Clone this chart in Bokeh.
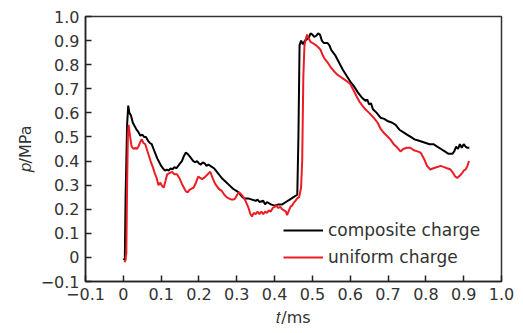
from bokeh.plotting import figure
from bokeh.models import FixedTicker, CustomJSTickFormatter, Range1d
from bokeh.embed import file_html
from bokeh.resources import INLINE

# composite charge (t in ms, p in MPa)
t_comp = [0.000, 0.004, 0.006, 0.010, 0.013, 0.016, 0.020, 0.025, 0.030, 0.035, 0.040, 0.045, 0.050, 0.055, 0.060,
          0.065, 0.070, 0.075, 0.080, 0.085, 0.090, 0.095, 0.100, 0.105, 0.110, 0.115, 0.120, 0.125, 0.130, 0.135,
          0.140, 0.145, 0.150, 0.155, 0.160, 0.165, 0.170, 0.175, 0.180, 0.185, 0.190, 0.195, 0.200, 0.205, 0.210,
          0.215, 0.220, 0.225, 0.230, 0.235, 0.240, 0.245, 0.250, 0.255, 0.260, 0.270, 0.280, 0.290, 0.300, 0.305,
          0.310, 0.315, 0.320, 0.330, 0.340, 0.350, 0.355, 0.360, 0.370, 0.375, 0.380, 0.390, 0.400, 0.410, 0.420,
          0.430, 0.440, 0.450, 0.460, 0.463, 0.466, 0.470, 0.475, 0.480, 0.490, 0.495, 0.500, 0.505, 0.510, 0.515,
          0.520, 0.525, 0.530, 0.540, 0.545, 0.550, 0.560, 0.570, 0.580, 0.590, 0.600, 0.610, 0.620, 0.630, 0.640,
          0.645, 0.650, 0.655, 0.660, 0.670, 0.680, 0.690, 0.700, 0.710, 0.720, 0.730, 0.740, 0.750, 0.760, 0.770,
          0.780, 0.790, 0.800, 0.810, 0.820, 0.830, 0.840, 0.850, 0.860, 0.870, 0.875, 0.880, 0.885, 0.890, 0.895,
          0.900, 0.905, 0.910, 0.915]
p_comp = [-0.010, -0.005, 0.250, 0.550, 0.630, 0.600, 0.590, 0.560, 0.545, 0.530, 0.520, 0.505, 0.510, 0.500, 0.500,
          0.485, 0.475, 0.470, 0.450, 0.430, 0.410, 0.395, 0.380, 0.370, 0.360, 0.365, 0.360, 0.370, 0.365, 0.375,
          0.370, 0.380, 0.390, 0.400, 0.420, 0.435, 0.430, 0.420, 0.410, 0.400, 0.395, 0.400, 0.390, 0.385, 0.395,
          0.390, 0.380, 0.385, 0.380, 0.375, 0.370, 0.360, 0.350, 0.340, 0.330, 0.315, 0.300, 0.285, 0.275, 0.270,
          0.260, 0.250, 0.245, 0.245, 0.240, 0.235, 0.240, 0.230, 0.235, 0.220, 0.230, 0.220, 0.215, 0.220, 0.220,
          0.230, 0.240, 0.250, 0.260, 0.500, 0.880, 0.900, 0.885, 0.900, 0.910, 0.930, 0.925, 0.915, 0.920, 0.930,
          0.925, 0.900, 0.890, 0.890, 0.880, 0.860, 0.840, 0.810, 0.780, 0.755, 0.730, 0.710, 0.685, 0.665, 0.650,
          0.655, 0.635, 0.640, 0.615, 0.600, 0.580, 0.575, 0.565, 0.560, 0.550, 0.530, 0.520, 0.510, 0.500, 0.490,
          0.485, 0.480, 0.475, 0.470, 0.470, 0.460, 0.450, 0.440, 0.430, 0.430, 0.440, 0.460, 0.450, 0.470, 0.455,
          0.470, 0.460, 0.455, 0.455]

# uniform charge
t_unif = [0.003, 0.006, 0.008, 0.010, 0.012, 0.014, 0.018, 0.022, 0.027, 0.032, 0.036, 0.040, 0.045, 0.049, 0.053,
          0.058, 0.063, 0.068, 0.072, 0.078, 0.083, 0.088, 0.093, 0.098, 0.103, 0.107, 0.112, 0.116, 0.122, 0.129,
          0.135, 0.142, 0.148, 0.155, 0.160, 0.165, 0.170, 0.175, 0.180, 0.186, 0.192, 0.198, 0.203, 0.208, 0.213,
          0.220, 0.226, 0.230, 0.236, 0.243, 0.250, 0.256, 0.261, 0.267, 0.273, 0.279, 0.286, 0.292, 0.296, 0.301,
          0.305, 0.310, 0.318, 0.323, 0.330, 0.336, 0.340, 0.345, 0.350, 0.355, 0.360, 0.365, 0.370, 0.375, 0.380,
          0.385, 0.390, 0.395, 0.400, 0.405, 0.410, 0.415, 0.420, 0.425, 0.430, 0.433, 0.438, 0.442, 0.446, 0.450,
          0.455, 0.460, 0.465, 0.470, 0.473, 0.476, 0.479, 0.483, 0.486, 0.490, 0.495, 0.500, 0.505, 0.510, 0.517,
          0.522, 0.527, 0.532, 0.540, 0.548, 0.556, 0.565, 0.574, 0.583, 0.592, 0.600, 0.610, 0.618, 0.625, 0.632,
          0.640, 0.650, 0.662, 0.672, 0.680, 0.690, 0.700, 0.706, 0.715, 0.725, 0.733, 0.740, 0.750, 0.759, 0.768,
          0.778, 0.786, 0.795, 0.803, 0.812, 0.820, 0.830, 0.839, 0.848, 0.856, 0.865, 0.872, 0.878, 0.883, 0.890,
          0.896, 0.900, 0.905, 0.910, 0.914]
p_unif = [-0.020, -0.010, 0.020, 0.300, 0.500, 0.550, 0.500, 0.460, 0.450, 0.455, 0.450, 0.460, 0.480, 0.490, 0.475,
          0.470, 0.445, 0.420, 0.400, 0.375, 0.350, 0.330, 0.300, 0.310, 0.295, 0.290, 0.320, 0.345, 0.350, 0.355,
          0.345, 0.345, 0.330, 0.305, 0.290, 0.275, 0.270, 0.280, 0.285, 0.290, 0.310, 0.335, 0.330, 0.325, 0.330,
          0.340, 0.350, 0.355, 0.330, 0.305, 0.290, 0.280, 0.275, 0.260, 0.250, 0.245, 0.240, 0.240, 0.245, 0.260,
          0.270, 0.265, 0.250, 0.235, 0.210, 0.180, 0.170, 0.185, 0.180, 0.190, 0.180, 0.190, 0.180, 0.190, 0.185,
          0.195, 0.190, 0.205, 0.210, 0.215, 0.205, 0.210, 0.200, 0.195, 0.190, 0.175, 0.195, 0.210, 0.215, 0.225,
          0.235, 0.245, 0.250, 0.290, 0.400, 0.750, 0.880, 0.910, 0.925, 0.910, 0.895, 0.890, 0.885, 0.880, 0.870,
          0.860, 0.840, 0.825, 0.810, 0.790, 0.775, 0.760, 0.750, 0.740, 0.730, 0.720, 0.690, 0.665, 0.645, 0.630,
          0.615, 0.600, 0.580, 0.560, 0.535, 0.515, 0.500, 0.490, 0.470, 0.455, 0.440, 0.450, 0.455, 0.455, 0.445,
          0.440, 0.435, 0.410, 0.380, 0.365, 0.370, 0.375, 0.380, 0.375, 0.370, 0.365, 0.350, 0.335, 0.330, 0.340,
          0.350, 0.360, 0.365, 0.380, 0.400]

x_ticks = [-0.1, 0.0, 0.1, 0.2, 0.3, 0.4, 0.5, 0.6, 0.7, 0.8, 0.9, 1.0]
y_ticks = [-0.1, 0.0, 0.1, 0.2, 0.3, 0.4, 0.5, 0.6, 0.7, 0.8, 0.9, 1.0]
x_title = "\U0001D461/ms"    # italic t
y_title = "\U0001D45D/MPa"   # italic p

FONT = "DejaVu Sans"
TXT = "#333333"

p = figure(width=523, height=333, output_backend="svg", toolbar_location=None,
           x_range=Range1d(-0.1, 1.0), y_range=Range1d(-0.1, 1.0),
           min_border_left=85, min_border_right=22, min_border_top=16, min_border_bottom=52)

p.line(t_comp, p_comp, line_color="black", line_width=2, legend_label="composite charge")
p.line(t_unif, p_unif, line_color="#ec1c24", line_width=2, legend_label="uniform charge")

p.xgrid.visible = False
p.ygrid.visible = False
p.outline_line_color = "#333333"
p.outline_line_width = 1.5
p.background_fill_color = "white"
p.border_fill_color = "white"

fmt = CustomJSTickFormatter(code="""
if (Math.abs(tick) < 1e-9) return '0';
var s = Math.abs(tick).toFixed(1);
return (tick < 0 ? '\u2212' : '') + s;
""")

for ax, ticks in ((p.xaxis[0], x_ticks), (p.yaxis[0], y_ticks)):
    ax.ticker = FixedTicker(ticks=ticks)
    ax.formatter = fmt
    ax.minor_tick_line_color = None
    ax.major_tick_in = 6
    ax.major_tick_out = 0
    ax.major_tick_line_width = 1.5
    ax.major_tick_line_color = "#222222"
    ax.axis_line_width = 1.5
    ax.axis_line_color = "#222222"
    ax.major_label_text_font = FONT
    ax.major_label_text_font_size = "16px"
    ax.major_label_text_color = TXT
    ax.major_label_standoff = 6
    ax.axis_label_text_font = FONT
    ax.axis_label_text_font_size = "16px"
    ax.axis_label_text_font_style = "normal"
    ax.axis_label_text_color = TXT

p.xaxis[0].axis_label = x_title
p.xaxis[0].axis_label_standoff = 5
p.yaxis[0].axis_label = y_title
p.yaxis[0].axis_label_standoff = 3

lg = p.legend[0]
lg.location = (198, 14)
lg.border_line_color = None
lg.background_fill_alpha = 0
lg.padding = 0
lg.margin = 0
lg.spacing = 7
lg.glyph_width = 40
lg.label_standoff = 5
lg.label_text_font = FONT
lg.label_text_font_size = "17px"
lg.label_text_color = TXT

open("out.html", "w").write(file_html(p, INLINE))
